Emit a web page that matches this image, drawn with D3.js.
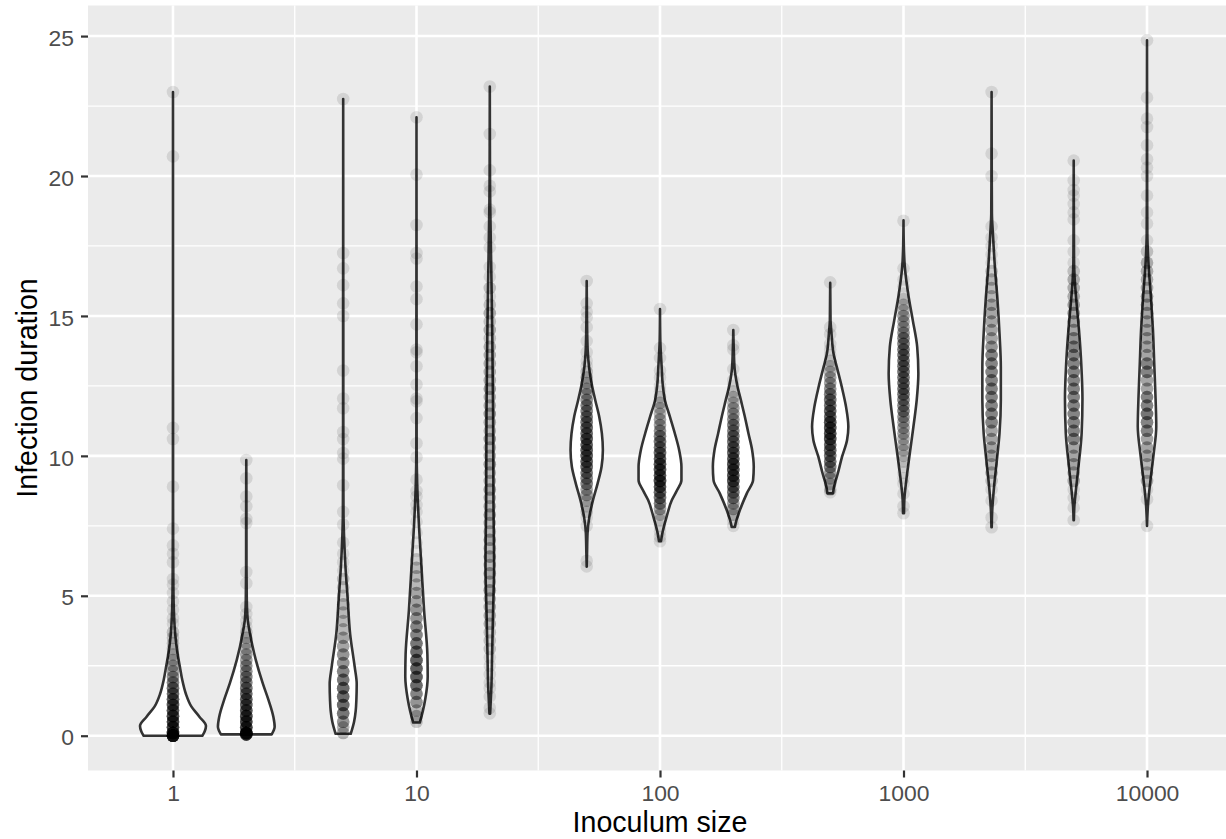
<!DOCTYPE html>
<html>
<head>
<meta charset="utf-8">
<script src="https://cdn.jsdelivr.net/npm/d3@7"></script>
<style>
  body { margin: 0; background: #fff; }
  text { font-family: "Liberation Sans", Arial, Helvetica, sans-serif; }
</style>
</head>
<body>
<svg id="chart"></svg>
<script>
// inoculum sizes (x groups)
const doses = [1, 2, 5, 10, 20, 50, 100, 200, 500, 1000, 2300, 5000, 10000];

// observed infection durations per group, as [duration, how many dots sit there]
const pts1 = [[23.0,1],[20.7,1],[11.0,1],[10.6,1],[8.9,1],[7.4,1],[6.8,1],[6.5,1],[6.2,1],[5.6,1],[5.4,1],[5.1,1],[4.8,1],[4.5,1],[4.2,1],[4.0,1],[3.7,2],[3.5,2],[3.3,2],[3.1,2],[2.9,3],[2.7,3],[2.5,4],[2.3,4],[2.1,5],[1.9,6],[1.7,7],[1.5,8],[1.3,9],[1.1,10],[0.9,10],[0.7,11],[0.5,12],[0.3,12],[0.1,14],[0,25]];
const pts2 = [[9.85,1],[9.2,1],[8.55,1],[8.2,1],[7.75,1],[7.6,1],[5.85,1],[5.45,1],[4.6,1],[4.35,1],[4.1,1],[3.9,1],[3.7,2],[3.5,3],[3.3,3],[3.1,3],[2.9,4],[2.7,4],[2.5,5],[2.3,5],[2.1,6],[1.9,6],[1.7,7],[1.5,8],[1.3,9],[1.1,9],[0.9,10],[0.7,11],[0.5,12],[0.3,12],[0.1,14],[0.05,16]];
const pts5 = [[22.75,1],[17.25,1],[16.7,1],[16.1,1],[15.45,1],[15.0,1],[13.05,1],[12.05,1],[11.7,1],[10.85,1],[10.6,1],[10.1,1],[9.9,1],[8.95,1],[8.0,1],[7.55,1],[6.9,1],[6.5,1],[6.2,1],[5.9,1],[5.6,2],[5.3,2],[5.0,2],[4.7,3],[4.4,3],[4.1,3],[3.8,3],[3.5,4],[3.2,4],[2.9,5],[2.6,5],[2.3,6],[2.0,7],[1.7,8],[1.4,8],[1.1,8],[0.8,7],[0.5,5],[0.3,3],[0.1,3]];
const pts10 = [[22.1,1],[20.05,1],[18.25,1],[17.25,1],[17.05,1],[16.05,1],[15.6,1],[14.7,1],[13.8,1],[13.7,1],[13.2,1],[12.55,1],[12.05,1],[11.95,1],[11.35,1],[10.45,1],[9.95,1],[9.15,1],[8.75,1],[8.55,1],[8.25,1],[8.0,1],[7.65,1],[7.25,1],[6.9,1],[6.6,1],[6.3,2],[6.0,3],[5.7,3],[5.4,3],[5.1,4],[4.8,4],[4.5,5],[4.2,5],[3.9,6],[3.6,6],[3.3,7],[3.0,8],[2.7,9],[2.4,9],[2.1,9],[1.8,8],[1.5,6],[1.2,5],[0.9,3],[0.7,3],[0.5,2]];
const pts20 = [[23.2,1],[21.5,1],[20.2,1],[19.65,1],[19.45,1],[18.8,1],[18.7,1],[18.2,1],[17.8,1],[17.45,1],[16.75,1],[16.4,1],[16.0,2],[15.7,1],[15.4,2],[15.1,3],[14.8,2],[14.5,3],[14.2,2],[13.9,3],[13.6,3],[13.3,3],[13.0,3],[12.7,3],[12.4,4],[12.1,3],[11.8,3],[11.5,4],[11.2,3],[10.9,3],[10.6,4],[10.3,3],[10.0,3],[9.7,4],[9.4,3],[9.1,3],[8.8,4],[8.5,3],[8.2,3],[7.9,4],[7.6,3],[7.3,3],[7.0,4],[6.7,3],[6.4,4],[6.1,3],[5.8,4],[5.5,3],[5.2,4],[4.9,3],[4.6,3],[4.3,3],[4.0,3],[3.7,2],[3.4,2],[3.1,2],[2.8,1],[2.5,1],[2.2,1],[1.9,1],[1.7,1],[1.4,1],[1.0,1],[0.8,1]];
const pts50 = [[16.25,1],[15.45,1],[15.15,1],[14.95,1],[14.6,1],[14.1,1],[13.7,1],[13.4,1],[13.2,1],[13.0,2],[12.8,3],[12.6,3],[12.4,4],[12.2,4],[12.0,5],[11.8,6],[11.6,6],[11.4,7],[11.2,7],[11.0,8],[10.8,8],[10.6,9],[10.4,9],[10.2,9],[10.0,9],[9.8,9],[9.6,8],[9.4,7],[9.2,6],[9.0,6],[8.8,4],[8.6,4],[8.4,3],[8.2,2],[8.0,2],[7.8,1],[7.5,1],[6.25,1],[6.05,1]];
const pts100 = [[15.25,1],[13.85,1],[13.5,1],[13.05,1],[12.8,1],[12.5,1],[12.3,1],[12.1,2],[11.9,3],[11.7,3],[11.5,3],[11.3,4],[11.1,4],[10.9,5],[10.7,6],[10.5,7],[10.3,7],[10.1,8],[9.9,9],[9.7,10],[9.5,10],[9.3,10],[9.1,11],[8.9,10],[8.7,8],[8.5,7],[8.3,6],[8.1,4],[7.9,3],[7.7,2],[7.5,1],[7.3,1],[7.1,1],[6.95,1]];
const pts200 = [[14.5,1],[13.95,1],[13.8,1],[13.1,1],[12.7,1],[12.5,1],[12.3,2],[12.1,3],[11.9,3],[11.7,4],[11.5,4],[11.3,5],[11.1,6],[10.9,6],[10.7,7],[10.5,7],[10.3,8],[10.1,8],[9.9,9],[9.7,10],[9.5,10],[9.3,10],[9.1,10],[8.9,8],[8.7,7],[8.5,6],[8.3,4],[8.1,4],[7.9,3],[7.7,1],[7.5,1]];
const pts500 = [[16.2,1],[14.6,1],[14.35,1],[14.0,1],[13.8,1],[13.6,1],[13.4,2],[13.2,3],[13.0,3],[12.8,4],[12.6,4],[12.4,5],[12.2,6],[12.0,7],[11.8,7],[11.6,8],[11.4,8],[11.2,10],[11.0,10],[10.8,10],[10.6,10],[10.4,8],[10.2,8],[10.0,7],[9.8,7],[9.6,6],[9.4,4],[9.2,4],[9.0,3],[8.8,2],[8.7,1]];
const pts1000 = [[18.4,1],[16.7,1],[16.3,1],[16.05,1],[15.8,1],[15.6,2],[15.4,3],[15.2,3],[15.0,4],[14.8,4],[14.6,4],[14.4,5],[14.2,6],[14.0,6],[13.8,7],[13.6,7],[13.4,7],[13.2,7],[13.0,7],[12.8,7],[12.6,7],[12.4,7],[12.2,7],[12.0,6],[11.8,6],[11.6,6],[11.4,5],[11.2,4],[11.0,4],[10.8,4],[10.6,3],[10.4,3],[10.2,3],[10.0,2],[9.8,2],[9.6,1],[9.4,1],[9.2,1],[9.0,1],[8.65,1],[8.2,1],[7.95,1]];
const pts2300 = [[23.0,1],[20.8,1],[20.0,1],[18.2,1],[17.8,1],[17.5,1],[17.2,1],[16.9,1],[16.6,2],[16.3,3],[16.0,3],[15.7,3],[15.4,4],[15.1,4],[14.8,4],[14.5,4],[14.2,4],[13.9,5],[13.6,6],[13.3,6],[13.0,6],[12.7,6],[12.4,6],[12.1,6],[11.8,6],[11.5,6],[11.2,6],[10.9,4],[10.6,4],[10.3,4],[10.0,4],[9.7,3],[9.4,3],[9.1,2],[8.8,1],[8.4,1],[7.8,1],[7.45,1]];
const pts5000 = [[20.55,1],[19.85,1],[19.5,1],[19.3,1],[19.0,1],[18.7,1],[18.45,1],[17.7,1],[17.3,1],[16.9,1],[16.6,2],[16.3,3],[16.0,3],[15.7,3],[15.4,4],[15.1,4],[14.8,4],[14.5,4],[14.2,5],[13.9,6],[13.6,6],[13.3,6],[13.0,6],[12.7,6],[12.4,6],[12.1,6],[11.8,6],[11.5,6],[11.2,6],[10.9,6],[10.6,6],[10.3,4],[10.0,4],[9.7,4],[9.4,3],[9.1,3],[8.8,1],[8.5,1],[8.15,1],[7.7,1]];
const pts10000 = [[24.85,1],[22.8,1],[22.05,1],[21.75,1],[21.1,1],[20.6,1],[20.3,1],[20.0,1],[19.3,1],[18.7,1],[18.3,1],[17.7,1],[17.3,2],[16.9,3],[16.6,3],[16.3,3],[16.0,3],[15.7,4],[15.4,4],[15.1,4],[14.8,4],[14.5,4],[14.2,4],[13.9,4],[13.6,4],[13.3,6],[13.0,6],[12.7,4],[12.4,4],[12.1,6],[11.8,6],[11.5,7],[11.2,6],[10.9,6],[10.6,4],[10.3,4],[10.0,4],[9.7,3],[9.4,3],[9.1,3],[8.8,1],[8.45,1],[7.5,1]];

// violin outlines: [duration, relative density]
const shape1 = [[0, 0.89], [0.15, 0.96], [0.35, 1.0], [0.68, 0.8], [1.04, 0.56], [1.5, 0.39], [2.0, 0.28], [2.46, 0.21], [3.0, 0.13], [3.66, 0.065], [4.3, 0.032], [4.85, 0.018], [5.8, 0.01], [7, 0.006], [9, 0.003], [11, 0.003], [14, 0.001], [21, 0.001], [23, 0]];
const shape2 = [[0.05, 0.77], [0.32, 0.86], [0.68, 0.82], [1.29, 0.67], [1.87, 0.5], [2.7, 0.29], [3.66, 0.11], [4.13, 0.045], [4.85, 0.015], [6, 0.006], [7.7, 0.005], [9, 0.003], [9.85, 0]];
const shape5 = [[0.07, 0.23], [0.5, 0.33], [0.9, 0.38], [1.3, 0.4], [1.85, 0.41], [2.45, 0.35], [3.64, 0.21], [4.83, 0.14], [6.02, 0.07], [7.0, 0.03], [7.9, 0.01], [9, 0.006], [10.5, 0.005], [12, 0.004], [15, 0.004], [16.5, 0.003], [17.2, 0.002], [20, 0.001], [22.75, 0]];
const shape10 = [[0.47, 0.1], [0.87, 0.19], [1.34, 0.27], [2.12, 0.34], [2.91, 0.33], [4.48, 0.23], [6.06, 0.15], [7.63, 0.07], [9.05, 0.02], [10.3, 0.005], [12, 0.004], [14, 0.004], [16, 0.003], [18, 0.002], [20, 0.001], [22.1, 0]];
const shape20 = [[0.79, 0.01], [1.02, 0.02], [1.81, 0.05], [2.91, 0.07], [4.48, 0.1], [6.06, 0.13], [8.42, 0.11], [11.56, 0.1], [14.71, 0.07], [17, 0.04], [18.8, 0.015], [20, 0.006], [21.5, 0.003], [23.2, 0]];
const shape50 = [[6.04, 0], [6.5, 0.01], [7.23, 0.025], [7.82, 0.08], [8.42, 0.19], [9.01, 0.33], [9.61, 0.45], [10.21, 0.49], [10.8, 0.46], [11.4, 0.38], [11.99, 0.26], [12.58, 0.15], [13.18, 0.07], [13.77, 0.03], [14.13, 0.02], [15, 0.008], [16.25, 0]];
const shape100 = [[6.95, 0.03], [7.23, 0.07], [7.82, 0.2], [8.42, 0.36], [8.78, 0.52], [9.13, 0.65], [9.61, 0.65], [10.21, 0.58], [10.8, 0.45], [11.4, 0.3], [11.99, 0.15], [12.58, 0.08], [13.18, 0.05], [14.13, 0.01], [15.25, 0]];
const shape200 = [[7.46, 0.05], [7.58, 0.07], [8.06, 0.2], [8.66, 0.41], [9.13, 0.6], [9.61, 0.62], [10.21, 0.57], [10.8, 0.46], [11.4, 0.35], [11.99, 0.23], [12.58, 0.11], [13.12, 0.04], [13.78, 0.015], [14.5, 0]];
const shape500 = [[8.66, 0.085], [8.89, 0.115], [9.37, 0.23], [9.97, 0.36], [10.56, 0.51], [11.04, 0.55], [11.75, 0.48], [12.47, 0.35], [13.18, 0.2], [13.66, 0.1], [14.37, 0.04], [14.85, 0.01], [16.18, 0]];
const shape1000 = [[7.95, 0.015], [8.42, 0.025], [9.13, 0.085], [10.08, 0.19], [11.04, 0.3], [11.99, 0.4], [12.94, 0.45], [13.89, 0.415], [14.85, 0.28], [15.8, 0.14], [16.75, 0.04], [17.5, 0.01], [18.42, 0]];
const shape2300 = [[7.45, 0.005], [7.94, 0.015], [8.9, 0.075], [9.85, 0.16], [10.8, 0.24], [11.99, 0.28], [13.18, 0.28], [14.37, 0.24], [15.56, 0.18], [16.75, 0.1], [17.94, 0.04], [18.65, 0.01], [20, 0.005], [23, 0]];
const shape5000 = [[7.7, 0.005], [8.2, 0.02], [8.58, 0.05], [9.57, 0.14], [10.8, 0.24], [12.03, 0.265], [13.26, 0.23], [14.5, 0.16], [15.48, 0.085], [16.22, 0.035], [17, 0.01], [18.5, 0.005], [20.55, 0]];
const shape10000 = [[7.5, 0], [8.34, 0.035], [9.08, 0.1], [10.06, 0.2], [11.05, 0.28], [12.03, 0.26], [13.26, 0.22], [14.5, 0.18], [15.73, 0.115], [16.96, 0.04], [17.94, 0.01], [19.5, 0.005], [21, 0.004], [24.85, 0]];

const xTicks = [1, 10, 100, 1000, 10000];
const yTicks = [0, 5, 10, 15, 20, 25];

const pointSets = [pts1, pts2, pts5, pts10, pts20, pts50, pts100, pts200, pts500, pts1000, pts2300, pts5000, pts10000]
    .map(set => set.flatMap(([v, n]) => Array(n).fill(v)));
const shapes = [shape1, shape2, shape5, shape10, shape20, shape50, shape100, shape200, shape500, shape1000, shape2300, shape5000, shape10000];
const groups = doses.map((d, i) => ({ dose: d, pts: pointSets[i], shape: shapes[i] }));

const width = 1226;
const height = 839;
const panel = { left: 88, right: 1232, top: 5.5, bottom: 770.5 };

const svg = d3.select("#chart")
    .attr("width", width)
    .attr("height", height);

// violin width: 0.9 of the smallest gap between groups (log scale)
const logs = doses.map(Math.log10);
const halfW = 0.9 * d3.min(d3.pairs(logs), ([a, b]) => b - a) / 2;
const lo = d3.min(logs) - halfW, hi = d3.max(logs) + halfW;
const padX = 0.05 * (hi - lo);

const x = d3.scaleLog()
    .domain([10 ** (lo - padX), 10 ** (hi + padX)])
    .range([panel.left, panel.right]);

const allPts = pointSets.flat();
const yMin = d3.min(allPts), yMax = d3.max(allPts);
const padY = 0.05 * (yMax - yMin);
const y = d3.scaleLinear()
    .domain([yMin - padY, yMax + padY])
    .range([panel.bottom, panel.top]);

// panel background
svg.append("rect")
    .attr("x", panel.left).attr("y", panel.top)
    .attr("width", panel.right - panel.left)
    .attr("height", panel.bottom - panel.top)
    .attr("fill", "#EBEBEB");

const grid = svg.append("g");
const yMinor = d3.range(-2.5, 30, 5).filter(v => v > y.domain()[0] && v < y.domain()[1]);
const xMinor = d3.range(-0.5, 5, 1).map(e => 10 ** e).filter(v => v > x.domain()[0] && v < x.domain()[1]);

grid.selectAll(".ymin").data(yMinor).enter().append("line")
    .attr("x1", panel.left).attr("x2", panel.right)
    .attr("y1", d => y(d)).attr("y2", d => y(d))
    .attr("stroke", "#fff").attr("stroke-width", 1.3);
grid.selectAll(".xmin").data(xMinor).enter().append("line")
    .attr("y1", panel.top).attr("y2", panel.bottom)
    .attr("x1", d => x(d)).attr("x2", d => x(d))
    .attr("stroke", "#fff").attr("stroke-width", 1.3);
grid.selectAll(".ymaj").data(yTicks).enter().append("line")
    .attr("x1", panel.left).attr("x2", panel.right)
    .attr("y1", d => y(d)).attr("y2", d => y(d))
    .attr("stroke", "#fff").attr("stroke-width", 2.6);
grid.selectAll(".xmaj").data(xTicks).enter().append("line")
    .attr("y1", panel.top).attr("y2", panel.bottom)
    .attr("x1", d => x(d)).attr("x2", d => x(d))
    .attr("stroke", "#fff").attr("stroke-width", 2.6);

// violins
const violins = svg.append("g");
groups.forEach(g => {
    const cx = x(g.dose);
    const hw = x(g.dose * 10 ** halfW) - cx;
    const area = d3.area()
        .curve(d3.curveMonotoneY)
        .y(d => y(d[0]))
        .x0(d => cx - d[1] * hw)
        .x1(d => cx + d[1] * hw);
    violins.append("path")
        .datum(g.shape)
        .attr("d", area)
        .attr("fill", "#fff")
        .attr("stroke", "#333333")
        .attr("stroke-width", 2.6)
        .attr("stroke-linejoin", "round");
});

// points
const dots = svg.append("g");
groups.forEach(g => {
    dots.selectAll(null)
        .data(g.pts)
        .enter()
        .append("circle")
        .attr("cx", x(g.dose))
        .attr("cy", d => y(d))
        .attr("r", 6.3)
        .attr("fill", "#000")
        .attr("fill-opacity", 0.1);
});

// axes
const xAxis = svg.append("g")
    .attr("transform", `translate(0,${panel.bottom})`)
    .call(d3.axisBottom(x).tickValues(xTicks).tickFormat(d3.format("d")).tickSize(7).tickPadding(7.5));
const yAxis = svg.append("g")
    .attr("transform", `translate(${panel.left},0)`)
    .call(d3.axisLeft(y).tickValues(yTicks).tickSize(7).tickPadding(7));

[xAxis, yAxis].forEach(a => {
    a.select(".domain").remove();
    a.selectAll(".tick line").attr("stroke", "#333333").attr("stroke-width", 2.2);
    a.selectAll(".tick text")
        .attr("fill", "#4D4D4D")
        .style("font-size", "22.9px")
        .style("font-family", '"Liberation Sans", Arial, sans-serif');
});
yAxis.selectAll(".tick text").attr("dy", "0.4em");

svg.append("text")
    .attr("x", (panel.left + panel.right) / 2)
    .attr("y", 832)
    .attr("text-anchor", "middle")
    .style("font-size", "28.6px")
    .attr("fill", "#000")
    .text("Inoculum size");

svg.append("text")
    .attr("transform", `translate(37,${(panel.top + panel.bottom) / 2}) rotate(-90)`)
    .attr("text-anchor", "middle")
    .style("font-size", "28.6px")
    .attr("fill", "#000")
    .text("Infection duration");
</script>
</body>
</html>
